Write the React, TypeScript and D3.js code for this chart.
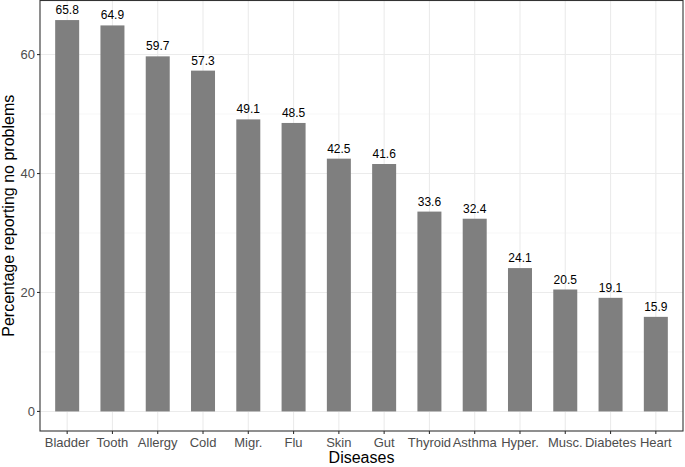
import React from "react";
import * as d3 from "d3";

const diseases = ["Bladder","Tooth","Allergy","Cold","Migr.","Flu","Skin","Gut","Thyroid","Asthma","Hyper.","Musc.","Diabetes","Heart"];
const values = [65.8,64.9,59.7,57.3,49.1,48.5,42.5,41.6,33.6,32.4,24.1,20.5,19.1,15.9];
const majorTicks = [0,20,40,60];
const minorTicks = [10,30,50];

export default function App() {
  const W = 685, H = 467;
  const left = 40, right = 683, top = 0.5, bottom = 431;
  const maxV = d3.max(values)!;
  const pad = maxV * 0.05;
  const y = d3.scaleLinear().domain([-pad, maxV + pad]).range([bottom, top]);
  const step = (right - left) / (diseases.length - 1 + 1.2);
  const x = (i: number) => left + (0.6 + i) * step;
  const bw = step * 0.53;
  const font = "'Liberation Sans', Arial, sans-serif";
  return (
    <svg width={W} height={H} style={{ position: "absolute", left: 0, top: 0, fontFamily: font }}>
      <rect x={0} y={0} width={W} height={H} fill="white" />
      {minorTicks.map(t => (
        <line key={"mi"+t} x1={left} x2={right} y1={y(t)} y2={y(t)} stroke="#F2F2F2" strokeWidth={0.6} />
      ))}
      {majorTicks.map(t => (
        <line key={"ma"+t} x1={left} x2={right} y1={y(t)} y2={y(t)} stroke="#EBEBEB" strokeWidth={1.1} />
      ))}
      {diseases.map((d, i) => (
        <line key={"gx"+d} x1={x(i)} x2={x(i)} y1={top} y2={bottom} stroke="#EBEBEB" strokeWidth={1.1} />
      ))}
      {values.map((v, i) => (
        <rect key={"b"+i} x={x(i) - bw/2} y={y(v)} width={bw} height={y(0) - y(v)} fill="#7F7F7F" />
      ))}
      {values.map((v, i) => (
        <text key={"l"+i} x={x(i)} y={y(v) - 6} textAnchor="middle" fontSize={12} fill="black">{v.toFixed(1)}</text>
      ))}
      <rect x={left} y={top} width={right-left} height={bottom-top} fill="none" stroke="#333333" strokeWidth={1.1} />
      {majorTicks.map(t => (
        <g key={"yt"+t}>
          <line x1={left-3} x2={left} y1={y(t)} y2={y(t)} stroke="#333333" strokeWidth={1.1} />
          <text x={left-5} y={y(t)} dy="0.35em" textAnchor="end" fontSize={13} fill="#4D4D4D">{t}</text>
        </g>
      ))}
      {diseases.map((d, i) => (
        <g key={"xt"+d}>
          <line x1={x(i)} x2={x(i)} y1={bottom} y2={bottom+3} stroke="#333333" strokeWidth={1.1} />
          <text x={x(i)} y={bottom+16} textAnchor="middle" fontSize={13} fill="#4D4D4D">{d}</text>
        </g>
      ))}
      <text x={(left+right)/2} y={463} textAnchor="middle" fontSize={16} fill="black">Diseases</text>
      <text transform={`translate(14,${(top+bottom)/2}) rotate(-90)`} textAnchor="middle" fontSize={16} fill="black">Percentage reporting no problems</text>
    </svg>
  );
}
